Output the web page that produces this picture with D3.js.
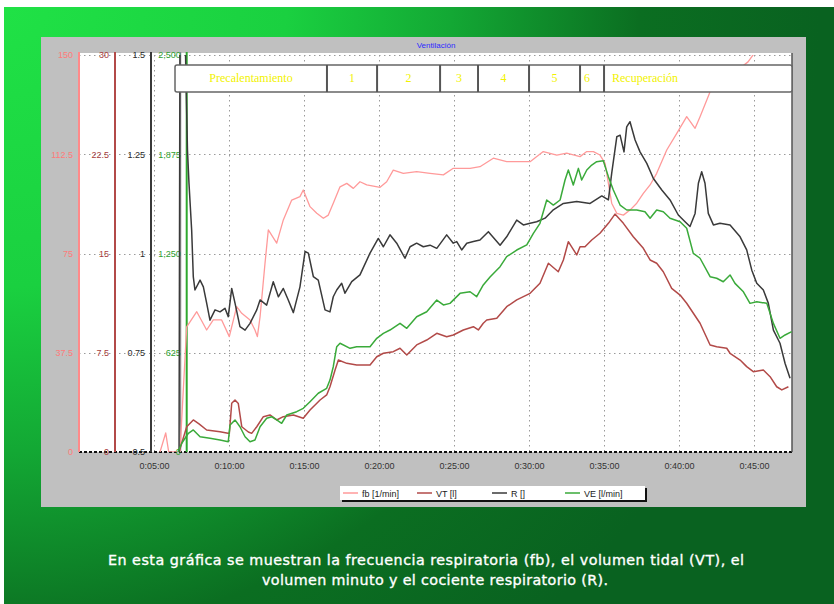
<!DOCTYPE html>
<html><head><meta charset="utf-8">
<script src="https://cdn.jsdelivr.net/npm/d3@7"></script>
<style>body{margin:0;background:#fff}svg{display:block}</style>
</head><body>
<script>
// ---------------- data ----------------
const timeTicks = [5,10,15,20,25,30,35,40,45];
const timeEnd = 47.53;
const fbTicks = [0,37.5,75,112.5,150];
const vtTicks = [0,7.5,15,22.5,30];
const rTicks = [0.5,0.75,1,1.25,1.5];
const veTicks = [0,625,1250,1875,2500];
const phaseNames = ["Precalentamiento","1","2","3","4","5","6","Recuperación"];
const phaseStarts = [6.4,16.53,19.87,24.07,26.6,30.0,33.4,35.0];
const seriesNames = ["fb [1/min]","VT [l]","R []","VE [l/min]"];
const captionLines = ["En esta gráfica se muestran la frecuencia respiratoria (fb), el volumen tidal (VT), el","volumen minuto y el cociente respiratorio (R)."];

const fbData = [[5.40,0],[5.78,7.2],[5.98,0],[6.73,0],[7.18,47.3],[7.85,53.0],[8.51,46.1],[8.95,49.9],[9.51,49.9],[10.02,43.6],[10.51,54.9],[10.85,52.4],[11.40,49.9],[11.73,46.1],[11.89,43.6],[12.07,51.1],[12.40,71.3],[12.62,83.9],[13.18,78.9],[13.62,87.7],[14.18,95.2],[14.73,96.5],[14.95,99.0],[15.40,92.7],[15.85,90.2],[16.29,88.3],[16.62,89.5],[16.95,94.0],[17.40,100.2],[17.85,101.5],[18.29,99.6],[18.73,102.1],[19.18,100.9],[20.07,100.0],[20.51,102.1],[20.95,106.5],[21.62,105.3],[22.51,105.9],[23.40,105.3],[24.29,104.7],[24.95,107.2],[26.07,107.2],[26.73,107.8],[27.62,111.0],[28.51,109.7],[30.07,109.7],[30.95,113.5],[31.85,112.2],[32.51,112.9],[33.40,111.6],[33.85,113.5],[34.29,113.5],[34.73,112.2],[35.07,109.1],[35.29,101.5],[35.51,94.0],[35.85,90.2],[36.29,89.5],[36.73,91.4],[37.18,94.0],[37.62,97.7],[38.07,100.9],[38.51,105.3],[39.18,114.1],[39.85,120.4],[40.51,126.7],[41.07,122.3],[41.40,126.7],[41.85,133.0],[42.07,136.1],[43.07,140.6],[44.60,147.4],[45.07,151.1],[45.73,155.7]];

const vtData = [[6.67,0],[7.18,1.91],[7.62,2.42],[8.0,2.12],[8.51,1.66],[9.40,1.53],[10.02,1.39],[10.18,3.68],[10.40,3.93],[10.62,3.66],[10.85,1.91],[11.29,1.51],[11.51,1.41],[11.85,1.91],[12.29,2.67],[12.73,2.80],[13.18,2.42],[13.62,2.67],[14.29,2.80],[14.95,2.55],[15.40,3.17],[16.07,3.93],[16.51,4.31],[16.73,4.93],[17.07,6.20],[17.29,6.95],[17.85,6.70],[18.51,6.57],[19.40,6.57],[19.85,7.20],[20.29,7.46],[20.95,7.58],[21.40,7.84],[21.85,7.33],[22.51,8.09],[23.18,8.46],[23.85,8.97],[24.51,8.71],[24.95,8.84],[25.62,9.22],[26.29,9.47],[26.62,9.22],[26.95,9.73],[27.18,9.97],[27.85,10.10],[28.51,10.98],[29.18,11.49],[30.07,11.99],[30.73,12.75],[31.29,14.26],[31.95,13.62],[32.29,14.51],[32.62,15.89],[33.18,14.89],[33.40,15.51],[33.73,15.51],[34.18,16.02],[34.73,16.53],[35.29,17.28],[35.73,17.98],[36.29,17.28],[36.95,16.27],[37.62,15.39],[38.07,14.51],[38.51,14.26],[38.95,13.62],[39.51,12.37],[40.07,11.86],[40.51,11.24],[41.40,9.73],[42.07,8.09],[42.51,7.96],[43.18,7.84],[43.40,7.46],[44.07,6.95],[44.51,6.45],[44.95,6.07],[45.62,6.20],[46.07,5.69],[46.51,4.93],[46.85,4.69],[47.29,4.93]];

const rData = [[6.67,0.5],[6.73,1.56],[7.07,1.56],[7.23,1.261],[7.33,1.178],[7.51,1.059],[7.62,0.941],[7.73,0.908],[8.07,0.933],[8.29,0.916],[8.51,0.875],[8.73,0.832],[9.07,0.858],[9.40,0.853],[9.73,0.862],[9.95,0.841],[10.18,0.912],[10.40,0.875],[10.73,0.816],[11.07,0.807],[11.40,0.824],[11.85,0.858],[12.07,0.883],[12.51,0.870],[12.95,0.929],[13.29,0.891],[13.62,0.912],[13.95,0.883],[14.29,0.851],[14.73,0.916],[15.07,1.005],[15.29,1.001],[15.62,0.942],[15.95,0.933],[16.40,0.858],[16.73,0.853],[16.95,0.891],[17.18,0.908],[17.51,0.925],[17.73,0.900],[18.18,0.929],[18.73,0.946],[19.40,1.001],[19.95,1.038],[20.29,1.017],[20.73,1.047],[21.18,1.026],[21.73,0.988],[22.07,1.017],[22.51,1.026],[22.95,1.017],[23.40,1.021],[23.85,1.013],[24.51,1.047],[24.95,1.026],[25.18,1.030],[25.51,1.009],[25.85,1.026],[26.29,1.030],[26.73,1.034],[27.29,1.055],[28.07,1.021],[28.51,1.042],[29.18,1.084],[29.62,1.072],[30.07,1.076],[30.51,1.080],[31.07,1.089],[31.62,1.110],[32.29,1.126],[33.18,1.131],[34.07,1.126],[34.85,1.145],[35.29,1.135],[35.51,1.202],[35.85,1.294],[36.07,1.298],[36.33,1.256],[36.51,1.319],[36.73,1.332],[37.07,1.286],[37.40,1.256],[37.85,1.227],[38.29,1.189],[38.85,1.160],[39.40,1.135],[39.95,1.097],[40.40,1.080],[40.73,1.068],[41.07,1.101],[41.29,1.177],[41.51,1.206],[41.73,1.177],[41.95,1.101],[42.29,1.072],[42.73,1.076],[43.40,1.072],[44.07,1.042],[44.51,1.009],[44.85,0.958],[45.18,0.925],[45.62,0.908],[45.95,0.875],[46.29,0.807],[46.73,0.774],[47.07,0.723],[47.40,0.686]];

const veData = [[6.60,0],[6.85,55],[7.29,118],[7.62,139],[8.07,96],[8.73,86],[9.40,76],[9.95,65],[10.07,170],[10.40,202],[10.73,159],[11.07,96],[11.40,65],[11.73,76],[12.07,159],[12.51,212],[12.85,222],[13.18,202],[13.51,181],[13.85,233],[14.51,254],[14.95,275],[15.40,317],[15.95,370],[16.51,401],[16.73,453],[16.95,537],[17.18,663],[17.40,685],[18.07,653],[18.51,663],[19.40,663],[19.85,716],[20.29,747],[20.73,768],[21.40,810],[21.85,779],[22.51,852],[23.18,883],[23.85,957],[24.29,926],[24.73,936],[25.40,999],[26.07,1009],[26.51,978],[26.95,1052],[27.40,1102],[28.07,1167],[28.51,1230],[29.18,1272],[29.85,1304],[30.29,1377],[30.73,1440],[31.18,1587],[31.62,1555],[32.07,1587],[32.40,1713],[32.62,1776],[32.95,1681],[33.29,1786],[33.51,1713],[33.85,1776],[34.18,1807],[34.51,1828],[34.95,1834],[35.29,1734],[35.62,1650],[36.07,1555],[36.51,1524],[37.18,1524],[37.73,1513],[38.07,1472],[38.51,1524],[38.95,1513],[39.40,1472],[40.07,1450],[40.51,1409],[40.95,1251],[41.40,1220],[42.07,1104],[42.51,1094],[42.95,1072],[43.40,1115],[43.73,1062],[44.29,1009],[44.73,936],[45.18,946],[45.85,936],[46.29,810],[46.73,716],[47.07,737],[47.51,758]];

// ---------------- layout ----------------
const W = 834, H = 604;
const L = 79, R = 792, T = 55, B = 452;
const colors = {fb:"#ff9a9a", vt:"#b24a48", r:"#3a3a3a", ve:"#3aaa3a"};
const axisColors = {fb:"#ff8a8a", vt:"#b24a48", r:"#3a3a3a", ve:"#2fa82f"};
const labelColors = {fb:"#ff7a7a", vt:"#a83c3c", r:"#2a2a2a", ve:"#2f9f2f"};
const font = "'Liberation Sans', Arial, sans-serif";

const svg = d3.select("body").append("svg").attr("width", W).attr("height", H);
const defs = svg.append("defs");
const grad = defs.append("radialGradient").attr("id","bg").attr("gradientUnits","userSpaceOnUse")
  .attr("cx",0).attr("cy",0).attr("r",820);
[[0,"#20e246"],[0.35,"#1ad040"],[0.55,"#13a834"],[0.78,"#0b6e21"],[1,"#096220"]]
  .forEach(([o,c]) => grad.append("stop").attr("offset",o).attr("stop-color",c));
defs.append("clipPath").attr("id","clip").append("rect")
  .attr("x",L).attr("y",T).attr("width",R-L).attr("height",B-T);

svg.append("rect").attr("width",W).attr("height",H).attr("fill","#fff");
svg.append("rect").attr("x",4).attr("y",7).attr("width",W-4).attr("height",H-7).attr("fill","url(#bg)");

// gray panel
svg.append("rect").attr("x",41).attr("y",37).attr("width",765).attr("height",470).attr("fill","#c0c0c0");
svg.append("text").attr("x",436).attr("y",48).attr("text-anchor","middle")
  .attr("font-family",font).attr("font-size",8).attr("fill","#2b2bff").text("Ventilación");

// white plot area
svg.append("rect").attr("x",L).attr("y",T-2).attr("width",R-L).attr("height",B-T+2).attr("fill","#fff");

const x = d3.scaleLinear().domain([0,timeEnd]).range([L,R]);
const yFb = d3.scaleLinear().domain([0,150]).range([B,T]);
const yVt = d3.scaleLinear().domain([0,30]).range([B,T]);
const yR  = d3.scaleLinear().domain([0.5,1.5]).range([B,T]);
const yVe = d3.scaleLinear().domain([0,2500]).range([B,T]);

// grid
const grid = svg.append("g").attr("stroke","#9a9a9a").attr("stroke-width",1).attr("stroke-dasharray","1.5,3.5");
grid.selectAll("line.h").data(fbTicks.slice(1)).join("line")
  .attr("x1",L).attr("x2",R).attr("y1",d=>Math.round(yFb(d))+0.5).attr("y2",d=>Math.round(yFb(d))+0.5);
grid.selectAll("line.v").data(timeTicks).join("line")
  .attr("y1",T).attr("y2",B).attr("x1",d=>Math.round(x(d))+0.5).attr("x2",d=>Math.round(x(d))+0.5);

// x axis
const xAxis = d3.axisBottom(x).tickValues(timeTicks).tickSize(0).tickPadding(11)
  .tickFormat(d => "0:" + String(d).padStart(2,"0") + ":00");
const gx = svg.append("g").attr("transform",`translate(0,${B})`).call(xAxis);
gx.select(".domain").remove();
gx.selectAll("text").attr("font-family",font).attr("font-size",9).attr("fill","#333");
svg.append("line").attr("x1",L).attr("x2",R).attr("y1",B).attr("y2",B)
  .attr("stroke","#111").attr("stroke-width",2).attr("stroke-dasharray","3,2");
svg.append("line").attr("x1",R).attr("x2",R).attr("y1",T-2).attr("y2",B)
  .attr("stroke","#555").attr("stroke-width",1.5);

// y axes (stacked inside plot)
const axes = [
  {scale:yFb, ticks:fbTicks, off:0,     key:"fb", fmt:d3.format("")},
  {scale:yVt, ticks:vtTicks, off:36,    key:"vt", fmt:d3.format("")},
  {scale:yR,  ticks:rTicks,  off:72,    key:"r",  fmt:d3.format("")},
  {scale:yVe, ticks:veTicks, off:107.7, key:"ve", fmt:d3.format(",")}
];
svg.append("line").attr("x1",L+101.5).attr("x2",L+101.5).attr("y1",T-3).attr("y2",B)
  .attr("stroke","#8a8a8a").attr("stroke-width",1.5);
axes.forEach(a => {
  const ax = d3.axisLeft(a.scale).tickValues(a.ticks).tickSize(0).tickPadding(6).tickFormat(a.fmt);
  const g = svg.append("g").attr("transform",`translate(${L+a.off},0)`).call(ax);
  g.select(".domain").remove();
  g.selectAll("text").attr("font-family",font).attr("font-size",9).attr("fill",labelColors[a.key]);
  svg.append("line").attr("x1",L+a.off).attr("x2",L+a.off).attr("y1",T-3).attr("y2",B)
    .attr("stroke",axisColors[a.key]).attr("stroke-width",2);
});

// series
const lines = svg.append("g").attr("clip-path","url(#clip)").attr("fill","none")
  .attr("stroke-linejoin","round");
const mk = ys => d3.line().x(d=>x(d[0])).y(d=>ys(d[1]));
lines.append("path").datum(fbData).attr("d",mk(yFb)).attr("stroke",colors.fb).attr("stroke-width",1.3);
lines.append("path").datum(vtData).attr("d",mk(yVt)).attr("stroke",colors.vt).attr("stroke-width",1.5);
lines.append("path").datum(rData).attr("d",mk(yR)).attr("stroke",colors.r).attr("stroke-width",1.5);
lines.append("path").datum(veData).attr("d",mk(yVe)).attr("stroke",colors.ve).attr("stroke-width",1.5);

// phase header bar
const hb = svg.append("g");
const hTop = 65, hBot = 92;
const bounds = phaseStarts.concat([timeEnd]);
hb.append("rect").attr("x",x(phaseStarts[0])).attr("y",hTop)
  .attr("width",x(timeEnd)-x(phaseStarts[0])).attr("height",hBot-hTop)
  .attr("fill","#fff").attr("stroke","#666").attr("stroke-width",1.5).attr("rx",2);
hb.selectAll("line").data(phaseStarts.slice(1)).join("line")
  .attr("x1",d=>x(d)).attr("x2",d=>x(d)).attr("y1",hTop).attr("y2",hBot)
  .attr("stroke","#555").attr("stroke-width",2);
hb.selectAll("text").data(phaseNames).join("text")
  .attr("x",(d,i)=>{
    const a = x(bounds[i]), b = x(bounds[i+1]);
    if (i === phaseNames.length-1) return a + 8;
    if (b - a < 30) return a + 4;
    return (a+b)/2;
  })
  .attr("text-anchor",(d,i)=>{
    const a = x(bounds[i]), b = x(bounds[i+1]);
    return (i === phaseNames.length-1 || b-a < 30) ? "start" : "middle";
  })
  .attr("y",82).attr("font-family","'Liberation Serif', 'Times New Roman', serif")
  .attr("font-size",12).attr("fill","#f2f200").text(d=>d);

// legend
const lg = svg.append("g");
lg.append("rect").attr("x",342).attr("y",488).attr("width",305).attr("height",14).attr("fill","#111");
lg.append("rect").attr("x",340).attr("y",486).attr("width",305).attr("height",14).attr("fill","#fff");
const legX = [343,417,492,565];
const legC = [colors.fb,colors.vt,colors.r,colors.ve];
seriesNames.forEach((n,i) => {
  lg.append("line").attr("x1",legX[i]).attr("x2",legX[i]+15).attr("y1",493).attr("y2",493)
    .attr("stroke",legC[i]).attr("stroke-width",1.5);
  lg.append("text").attr("x",legX[i]+19).attr("y",496.5).attr("font-family",font)
    .attr("font-size",9).attr("fill","#222").text(n);
});

// caption
const cap = svg.append("g").attr("font-family","'DejaVu Sans', sans-serif").attr("font-size",14.3)
  .attr("fill","#fff").attr("stroke","#fff").attr("stroke-width",0.35);
cap.append("text").attr("x",108).attr("y",565).attr("textLength",636).text(captionLines[0]);
cap.append("text").attr("x",262).attr("y",585).attr("textLength",346).text(captionLines[1]);
</script>
</body></html>
